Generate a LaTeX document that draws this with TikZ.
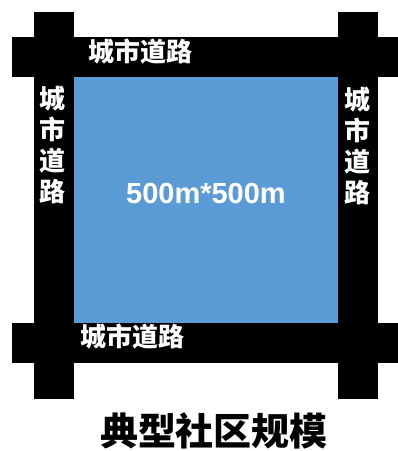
\documentclass[tikz,border=0pt]{standalone}
\usepackage{fontspec}
\setmainfont{Liberation Sans}
\newfontfamily\cjk{Noto Sans CJK SC}
\definecolor{blockblue}{HTML}{5B9BD5}
\begin{document}
\begin{tikzpicture}[x=1pt,y=-1pt,
  road/.style={fill=black,draw=none},
  roadlabel/.style={text=white,font=\cjk\bfseries\fontsize{26}{31}\selectfont,inner sep=0pt},
  vlabel/.style={roadlabel,align=center},
]
\useasboundingbox (0,0) rectangle (398,451);
% roads
\fill[road] (34,12) rectangle (74,399);
\fill[road] (338,12) rectangle (378,399);
\fill[road] (12,37) rectangle (398,77);
\fill[road] (12,323) rectangle (398,363);
% block
\fill[blockblue] (74,77) rectangle (338,323);
% labels
\node[roadlabel] (top) at (140.5,51.5) {城市道路};
\node[roadlabel] (bottom) at (132.5,337) {城市道路};
\node[vlabel] (left) at (52.5,145) {城\\市\\道\\路};
\node[vlabel] (right) at (357.5,146) {城\\市\\道\\路};
\node[text=white,font=\bfseries\fontsize{29}{34}\selectfont,inner sep=0pt] (size) at (206,194) {500m*500m};
\node[font=\cjk\bfseries\fontsize{38}{42}\selectfont,inner sep=0pt] (title) at (214,431) {典型社区规模};
\end{tikzpicture}
\end{document}
